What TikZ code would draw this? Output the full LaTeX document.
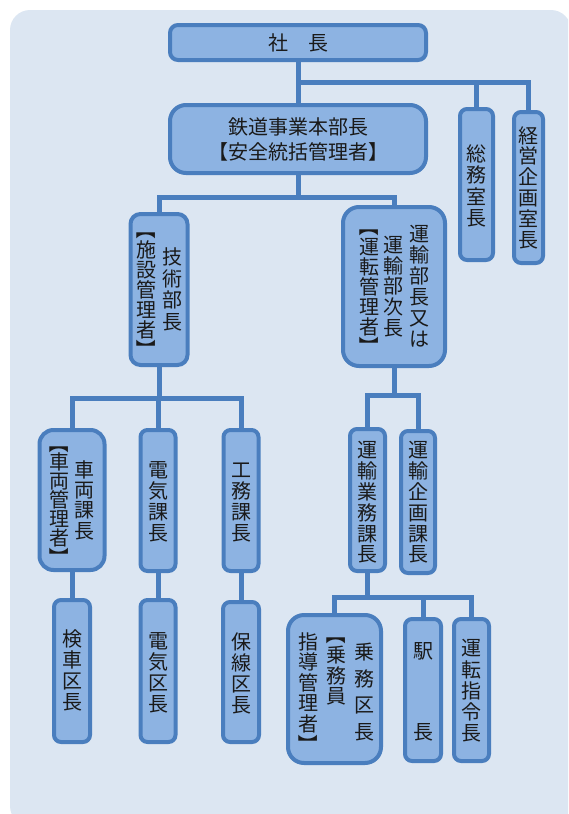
\documentclass[tikz,border=0pt]{standalone}
\usepackage{fontspec}
\setmainfont{Noto Sans CJK JP}
\usepackage{graphicx}
\definecolor{bgc}{HTML}{DCE6F2}
\definecolor{boxf}{HTML}{8DB3E2}
\definecolor{bdr}{HTML}{4A7EBE}
\definecolor{txt}{HTML}{1A1A1A}
\newsavebox\jstkbox
\newlength\jstkdim
% #1 vertical offset (down), #2 row pitch, #3 rows separated by \cr
\newcommand\jstk[3][0pt]{%
  \setbox\jstkbox=\vbox{\baselineskip=#2\relax\lineskiplimit=-100pt\lineskip=0pt%
    \halign{\hfil##\hfil\cr#3\crcr}}%
  \jstkdim=\dimexpr(\ht\jstkbox-\dp\jstkbox)/2+#1\relax
  \setbox\jstkbox=\hbox{\lower\jstkdim\box\jstkbox}%
  \ht\jstkbox=0pt\dp\jstkbox=0pt\box\jstkbox}
\newcommand\lbr{\rotatebox[origin=c]{-90}{【}}
\newcommand\rbr{\rotatebox[origin=c]{-90}{】}}
\begin{document}
\begin{tikzpicture}[x=1pt,y=-1pt,
  obox/.style={draw=bdr, fill=boxf, line width=4pt, rounded corners=#1,
    inner sep=0pt, text=txt, font=\fontsize{20}{21}\selectfont},
  obox/.default=7pt,
  conn/.style={draw=bdr, line width=5pt}]
\useasboundingbox (0,0) rectangle (568,814);
\clip (0,0) rectangle (568,814);
\fill[bgc, rounded corners=20pt] (10,10) rectangle (571,826);

% level 0/1
\node[obox=8pt, minimum width=256pt, minimum height=35pt] (shacho) at (298,42.5) {\jstk{21pt}{社　長}};
\node[obox=16pt, minimum width=256pt, minimum height=68pt] (tetsudo) at (298,139) {\jstk{25pt}{鉄道事業本部長\cr 【安全統括管理者】}};
\node[obox, minimum width=33pt, minimum height=151pt] (somu) at (476.5,184.5) {\jstk[1.5pt]{21.5pt}{総\cr 務\cr 室\cr 長}};
\node[obox, minimum width=29pt, minimum height=151pt] (keiei) at (528.5,187.5) {\jstk{20.8pt}{経\cr 営\cr 企\cr 画\cr 室\cr 長}};

% level 2
\node[obox=10pt, minimum width=57pt, minimum height=151pt] (gijutsu) at (159,289.5)
  {\jstk{20pt}{\lbr\cr 施\cr 設\cr 管\cr 理\cr 者\cr \rbr}\hspace{6pt}\jstk{21.7pt}{技\cr 術\cr 部\cr 長}};
\node[obox=16pt, minimum width=102pt, minimum height=159pt] (unyu) at (394,286.5)
  {\jstk{20pt}{\lbr\cr 運\cr 転\cr 管\cr 理\cr 者\cr \rbr}\hspace{4pt}\jstk{20.8pt}{運\cr 輸\cr 部\cr 次\cr 長}\hspace{6pt}\jstk{21pt}{運\cr 輸\cr 部\cr 長\cr 又\cr は}\hspace{12pt}};

% level 3
\node[obox=14pt, minimum width=65pt, minimum height=140pt] (sharyo) at (72,500)
  {\jstk{19pt}{\lbr\cr 車\cr 両\cr 管\cr 理\cr 者\cr \rbr}\hspace{5pt}\jstk{20.3pt}{車\cr 両\cr 課\cr 長}};
\node[obox, minimum width=35pt, minimum height=141pt] (denki) at (158,500.5) {\jstk[1.5pt]{21pt}{電\cr 気\cr 課\cr 長}};
\node[obox, minimum width=35pt, minimum height=141pt] (komu) at (241,500.5) {\jstk[2.5pt]{21pt}{工\cr 務\cr 課\cr 長}};
\node[obox, minimum width=35pt, minimum height=142pt] (gyomu) at (367.5,500) {\jstk[2.5pt]{20.8pt}{運\cr 輸\cr 業\cr 務\cr 課\cr 長}};
\node[obox, minimum width=34pt, minimum height=142pt] (kikaku) at (418,502) {\jstk[0.5pt]{20.8pt}{運\cr 輸\cr 企\cr 画\cr 課\cr 長}};

% level 4
\node[obox, minimum width=36pt, minimum height=142pt] (kensha) at (72,671) {\jstk[-1pt]{21pt}{検\cr 車\cr 区\cr 長}};
\node[obox, minimum width=35pt, minimum height=142pt] (denkiku) at (158,671) {\jstk[2pt]{21pt}{電\cr 気\cr 区\cr 長}};
\node[obox, minimum width=36pt, minimum height=140pt] (hosen) at (241,672) {\jstk[1pt]{21pt}{保\cr 線\cr 区\cr 長}};
\node[obox=16pt, minimum width=93pt, minimum height=148pt] (jomu) at (334.5,689)
  {\hspace{3pt}\jstk[4.5pt]{20.5pt}{指\cr 導\cr 管\cr 理\cr 者\cr \rbr}\hspace{8pt}\jstk[-24pt]{20.5pt}{\lbr\cr 乗\cr 務\cr 員}\hspace{8pt}\jstk[3pt]{26.8pt}{乗\cr 務\cr 区\cr 長}};
\node[obox, minimum width=36pt, minimum height=142pt] (eki) at (423,690) {\jstk[1.5pt]{81pt}{駅\cr 長}};
\node[obox, minimum width=35pt, minimum height=142pt] (shirei) at (471.5,690) {\jstk[1pt]{21.2pt}{運\cr 転\cr 指\cr 令\cr 長}};

% bus coordinates
\coordinate (tb) at (298,82);
\coordinate (b1) at (298,197);
\coordinate (b2) at (159,398);
\coordinate (b3) at (394,395);
\coordinate (b4) at (367.5,597);

% connectors
\draw[conn] (shacho.south) -- (tetsudo.north);
\draw[conn] (tb) -| (keiei.north);
\draw[conn] (somu.north |- tb) -- (somu.north);
\draw[conn] (tetsudo.south) -- (b1);
\draw[conn] (gijutsu.north) |- (b1) -| (unyu.north);
\draw[conn] (gijutsu.south) -- (b2);
\draw[conn] (sharyo.north) |- (b2) -| (komu.north);
\draw[conn] (denki.north) -- (denki.north |- b2);
\draw[conn] (sharyo.south) -- (kensha.north);
\draw[conn] (denki.south) -- (denkiku.north);
\draw[conn] (komu.south) -- (hosen.north);
\draw[conn] (unyu.south) -- (b3);
\draw[conn] (gyomu.north) |- (b3) -| (kikaku.north);
\draw[conn] (gyomu.south) -- (b4);
\draw[conn] (jomu.north) |- (b4) -| (shirei.north);
\draw[conn] (eki.north) -- (eki.north |- b4);
\end{tikzpicture}
\end{document}
